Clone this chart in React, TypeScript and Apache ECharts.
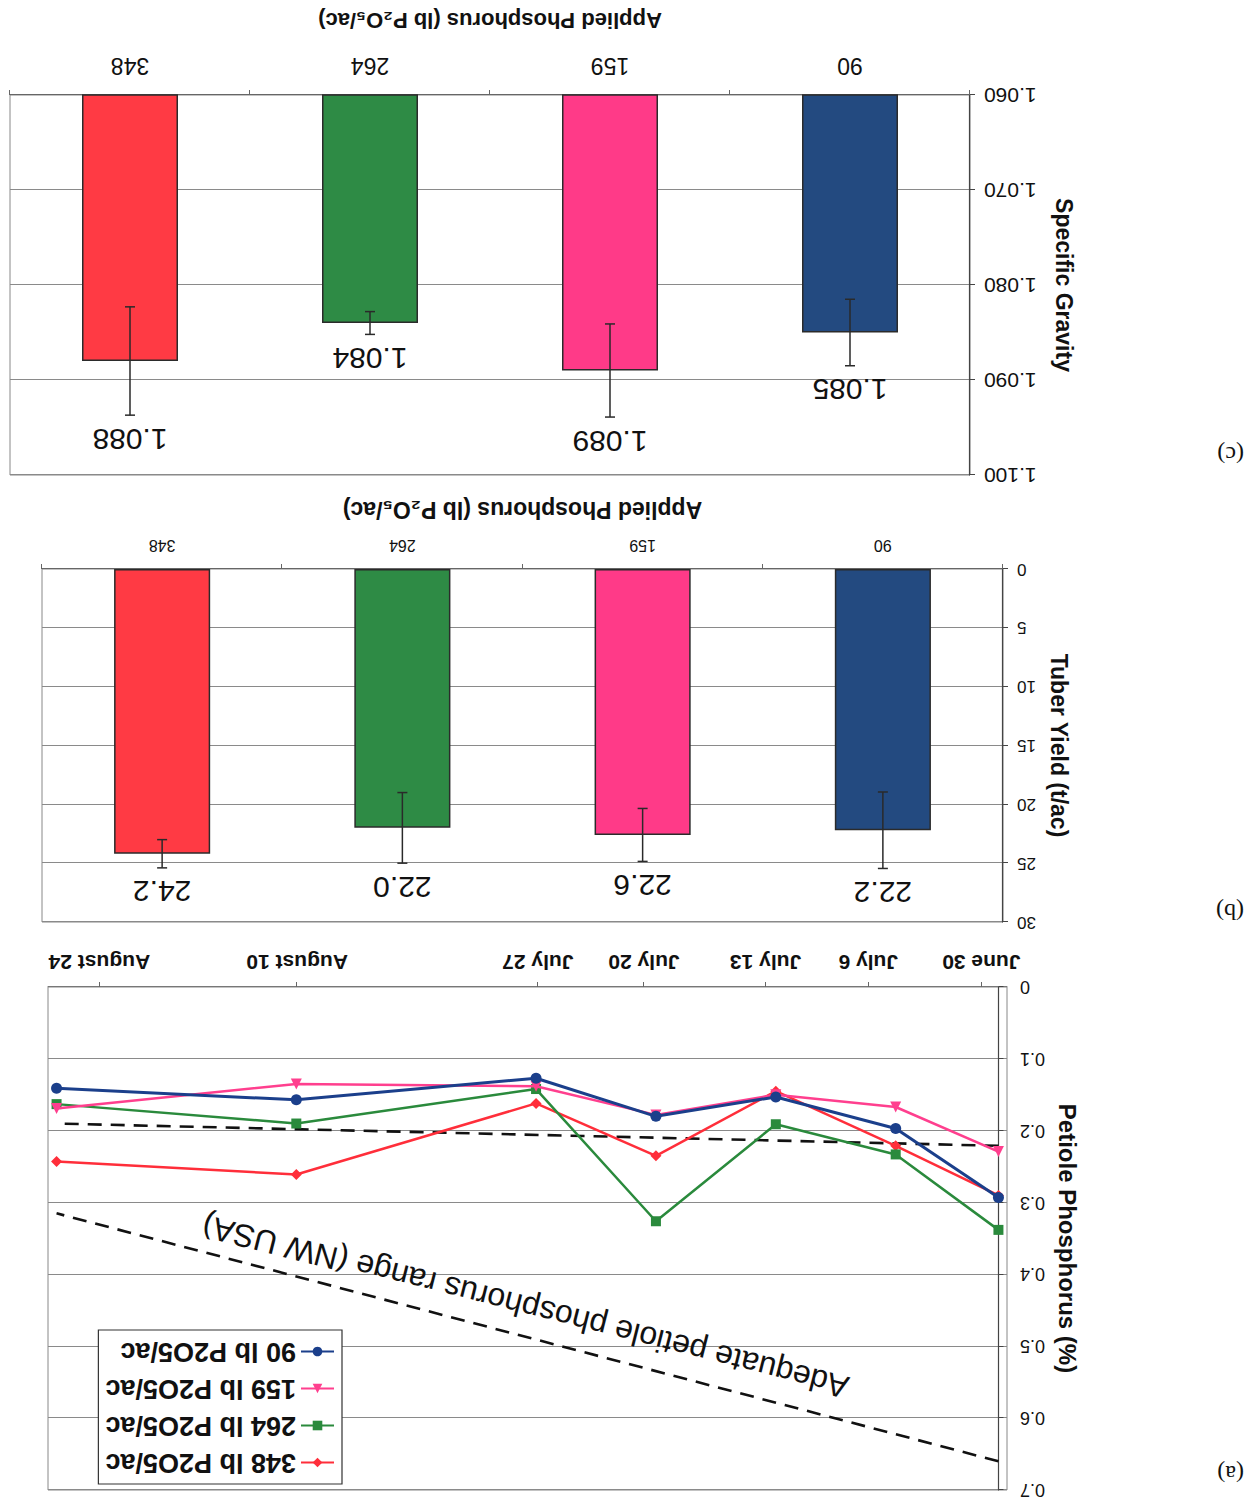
import React, { useEffect, useRef } from "react";
import * as echarts from "echarts";

// ---------- Panel (a): petiole phosphorus over the season ----------
const dateDays = [0, 6, 13, 20, 27, 41, 55];
const dateLabels = ["June 30", "July 6", "July 13", "July 20", "July 27", "August 10", "August 24"];
const dateTickDays = [1, 7.6, 13.6, 20.7, 26.9, 40.95, 52.5];
const petiole90 = [0.293, 0.197, 0.153, 0.18, 0.127, 0.157, 0.141];
const petiole159 = [0.229, 0.167, 0.15, 0.178, 0.138, 0.135, 0.169];
const petiole264 = [0.338, 0.233, 0.191, 0.326, 0.142, 0.19, 0.163];
const petiole348 = [0.29, 0.221, 0.145, 0.235, 0.162, 0.261, 0.243];
const rangeDays = [0, 55];
const rangeLow = [0.221, 0.19];
const rangeHigh = [0.66, 0.315];
const rangeText = "Adequate petiole phosphorus range (NW USA)";
const seriesNames = ["90 lb P2O5/ac", "159 lb P2O5/ac", "264 lb P2O5/ac", "348 lb P2O5/ac"];
const petioleTicks = [0, 0.1, 0.2, 0.3, 0.4, 0.5, 0.6, 0.7];

// ---------- Panels (b) and (c) ----------
const rates = ["90", "159", "264", "348"];
const yieldValues = [22.2, 22.6, 22.0, 24.2];
const yieldErrors = [3.25, 2.25, 3.0, 1.2];
const gravityValues = [1.085, 1.089, 1.084, 1.088];
const gravityErrors = [0.0035, 0.0049, 0.0012, 0.0057];

const lineColors = ["#1B3F8B", "#FF3F8E", "#2A8A3C", "#FF2E3A"];
const lineSymbols = ["circle", "triangle", "rect", "diamond"];
const barColors = ["#234A80", "#FF3A88", "#2E8B45", "#FF3A44"];

const FONT = "'Liberation Sans', Arial, Helvetica, sans-serif";
const xName = "Applied Phosphorus (lb P\u2082O\u2085/ac)";

function errorSeries(values: number[], errors: number[], idx: number, digits: number) {
  return {
    type: "custom",
    xAxisIndex: idx,
    yAxisIndex: idx,
    z: 5,
    data: values.map((v, i) => [i, v, errors[i]]),
    encode: { x: 0, y: 1 },
    renderItem: (params: any, api: any) => {
      const i = api.value(0);
      const v = api.value(1);
      const e = api.value(2);
      const top = api.coord([i, v + e]);
      const bot = api.coord([i, v - e]);
      const half = 5;
      const st = { stroke: "#2a2a2a", lineWidth: 1.5 };
      return {
        type: "group",
        children: [
          { type: "line", shape: { x1: top[0], y1: top[1], x2: bot[0], y2: bot[1] }, style: st },
          { type: "line", shape: { x1: top[0] - half, y1: top[1], x2: top[0] + half, y2: top[1] }, style: st },
          { type: "line", shape: { x1: bot[0] - half, y1: bot[1], x2: bot[0] + half, y2: bot[1] }, style: st },
          {
            type: "text",
            x: top[0],
            y: top[1] - 9,
            style: {
              text: v.toFixed(digits),
              fill: "#111",
              font: `30px ${FONT}`,
              align: "center",
              verticalAlign: "bottom",
            },
          },
        ],
      };
    },
  };
}

function barSeries(values: number[], idx: number) {
  return {
    type: "bar",
    xAxisIndex: idx,
    yAxisIndex: idx,
    barWidth: "40%",
    clip: true,
    data: values.map((v, i) => ({
      value: v,
      itemStyle: { color: barColors[i], borderColor: "#2b2b2b", borderWidth: 1.5 },
    })),
  };
}

const catAxis = (gridIndex: number, fontSize: number, margin: number, nameGap: number, nameSize: number) => ({
  type: "category",
  gridIndex,
  data: rates,
  name: xName,
  nameLocation: "middle",
  nameGap,
  nameTextStyle: { fontSize: nameSize, fontWeight: "bold", color: "#111", fontFamily: FONT },
  axisLine: { lineStyle: { color: "#666", width: 1 } },
  axisTick: { show: true, length: 5, lineStyle: { color: "#666" } },
  axisLabel: { fontSize, color: "#111", margin, fontFamily: FONT },
  splitLine: { show: false },
});

export default function App() {
  const ref = useRef<HTMLDivElement>(null);

  useEffect(() => {
    if (!ref.current) return;
    const chart = echarts.init(ref.current, undefined, { renderer: "svg" });

    const order = [3, 2, 1, 0];
    const lineSeries = order.map((k) => {
      const vals = [petiole90, petiole159, petiole264, petiole348][k];
      return {
        type: "line",
        name: seriesNames[k],
        xAxisIndex: 0,
        yAxisIndex: 0,
        data: dateDays.map((d, i) => [d, vals[i]]),
        symbol: lineSymbols[k],
        symbolSize: k === 2 ? 10 : 11,
        lineStyle: { color: lineColors[k], width: k === 0 ? 3 : 2.5 },
        itemStyle: { color: lineColors[k] },
        z: 3 + (3 - k),
      };
    });

    const dashed = (vals: number[]) => ({
      type: "line",
      xAxisIndex: 0,
      yAxisIndex: 0,
      data: rangeDays.map((d, i) => [d, vals[i]]),
      symbol: "none",
      silent: true,
      lineStyle: { color: "#111", width: 2.6, type: [14, 9] },
      z: 2,
    });

    const nearest = (arr: number[], v: number) => {
      let best = 0;
      arr.forEach((a, i) => {
        if (Math.abs(a - v) < Math.abs(arr[best] - v)) best = i;
      });
      return best;
    };

    const option: any = {
      animation: false,
      backgroundColor: "#fff",
      textStyle: { fontFamily: FONT },
      grid: [
        { left: 240, top: 6, width: 959, height: 506, show: true, borderColor: "#888", borderWidth: 1, backgroundColor: "#fff" },
        { left: 244, top: 577, width: 961, height: 353, show: true, borderColor: "#888", borderWidth: 1, backgroundColor: "#fff" },
        { left: 277, top: 1024, width: 960, height: 380, show: true, borderColor: "#888", borderWidth: 1, backgroundColor: "#fff" },
      ],
      legend: {
        data: [seriesNames[3], seriesNames[2], seriesNames[1], seriesNames[0]],
        orient: "vertical",
        left: 905,
        top: 15,
        padding: [8, 7, 8, 7],
        itemWidth: 33,
        itemHeight: 12,
        itemGap: 10,
        borderColor: "#333",
        borderWidth: 1.2,
        backgroundColor: "#fff",
        textStyle: { fontSize: 27, fontWeight: "bold", color: "#111", fontFamily: FONT },
        z: 10,
      },
      xAxis: [
        {
          type: "value",
          gridIndex: 0,
          min: -0.5,
          max: 55.5,
          axisLine: { lineStyle: { color: "#777" } },
          axisTick: { show: true, length: 5, customValues: dateTickDays, lineStyle: { color: "#666" } },
          axisLabel: {
            customValues: dateTickDays,
            formatter: (v: number) => dateLabels[nearest(dateTickDays, v)],
            fontSize: 21,
            fontWeight: "bold",
            color: "#111",
            margin: 14,
            fontFamily: FONT,
          },
          splitLine: { show: false },
        },
        catAxis(1, 16, 16, 48, 23),
        catAxis(2, 23, 18, 64, 22),
      ],
      yAxis: [
        {
          type: "value",
          gridIndex: 0,
          min: petioleTicks[0],
          max: petioleTicks[petioleTicks.length - 1],
          interval: 0.1,
          name: "Petiole Phosphorus (%)",
          nameLocation: "middle",
          nameGap: 46,
          nameTextStyle: { fontSize: 24, fontWeight: "bold", color: "#111", fontFamily: FONT },
          axisLine: { show: true, lineStyle: { color: "#444", width: 1.2 } },
          axisTick: { show: true, length: 5, lineStyle: { color: "#444" } },
          axisLabel: { fontSize: 18, color: "#111", margin: 13, formatter: (v: number) => (v === 0 ? "0" : v.toFixed(1)), fontFamily: FONT },
          splitLine: { show: true, lineStyle: { color: "#8a8a8a", width: 1 } },
        },
        {
          type: "value",
          gridIndex: 1,
          min: 0,
          max: 30,
          interval: 5,
          name: "Tuber Yield (t/ac)",
          nameLocation: "middle",
          nameGap: 44,
          nameTextStyle: { fontSize: 23, fontWeight: "bold", color: "#111", fontFamily: FONT },
          axisLine: { show: true, lineStyle: { color: "#444", width: 1.2 } },
          axisTick: { show: true, length: 5, lineStyle: { color: "#444" } },
          axisLabel: { fontSize: 17, color: "#111", margin: 14, fontFamily: FONT },
          splitLine: { show: true, lineStyle: { color: "#8a8a8a", width: 1 } },
        },
        {
          type: "value",
          gridIndex: 2,
          min: 1.06,
          max: 1.1,
          interval: 0.01,
          name: "Specific Gravity",
          nameLocation: "middle",
          nameGap: 82,
          nameTextStyle: { fontSize: 23, fontWeight: "bold", color: "#111", fontFamily: FONT },
          axisLine: { show: true, lineStyle: { color: "#444", width: 1.2 } },
          axisTick: { show: true, length: 5, lineStyle: { color: "#444" } },
          axisLabel: { fontSize: 21, color: "#111", margin: 14, formatter: (v: number) => v.toFixed(3), fontFamily: FONT },
          splitLine: { show: true, lineStyle: { color: "#8a8a8a", width: 1 } },
        },
      ],
      series: [
        dashed(rangeLow),
        dashed(rangeHigh),
        ...lineSeries,
        barSeries(yieldValues, 1),
        errorSeries(yieldValues, yieldErrors, 1, 1),
        barSeries(gravityValues, 2),
        errorSeries(gravityValues, gravityErrors, 2, 3),
      ],
    };

    chart.setOption(option);

    // Place the range label along the upper-range dashed line using the chart's scales
    const p0 = chart.convertToPixel({ gridIndex: 0 }, [rangeDays[0], rangeHigh[0]]) as number[];
    const p1 = chart.convertToPixel({ gridIndex: 0 }, [rangeDays[1], rangeHigh[1]]) as number[];
    const dx = p1[0] - p0[0];
    const dy = p1[1] - p0[1];
    const len = Math.sqrt(dx * dx + dy * dy);
    const ux = dx / len;
    const uy = dy / len;
    const nx = -uy;
    const ny = ux;
    const off = 29;
    const along = 10;
    const cx = (p0[0] + p1[0]) / 2 + nx * off + ux * along;
    const cy = (p0[1] + p1[1]) / 2 + ny * off + uy * along;

    chart.setOption({
      graphic: [
        {
          type: "text",
          x: cx,
          y: cy,
          rotation: -Math.atan2(dy, dx) + 0.01,
          z: 20,
          style: { text: rangeText, font: `32px ${FONT}`, fill: "#111", align: "center", verticalAlign: "middle" },
        },
        { type: "text", x: 3, y: 25, style: { text: "(a)", font: "24px 'Liberation Serif', serif", fill: "#111", verticalAlign: "middle" } },
        { type: "text", x: 3, y: 587, style: { text: "(b)", font: "24px 'Liberation Serif', serif", fill: "#111", verticalAlign: "middle" } },
        { type: "text", x: 3, y: 1044, style: { text: "(c)", font: "24px 'Liberation Serif', serif", fill: "#111", verticalAlign: "middle" } },
      ],
    });

    return () => chart.dispose();
  }, []);

  return (
    <div
      ref={ref}
      style={{
        position: "absolute",
        left: 0,
        top: 0,
        width: 1247,
        height: 1499,
        background: "#fff",
        transform: "rotate(180deg)",
      }}
    />
  );
}
